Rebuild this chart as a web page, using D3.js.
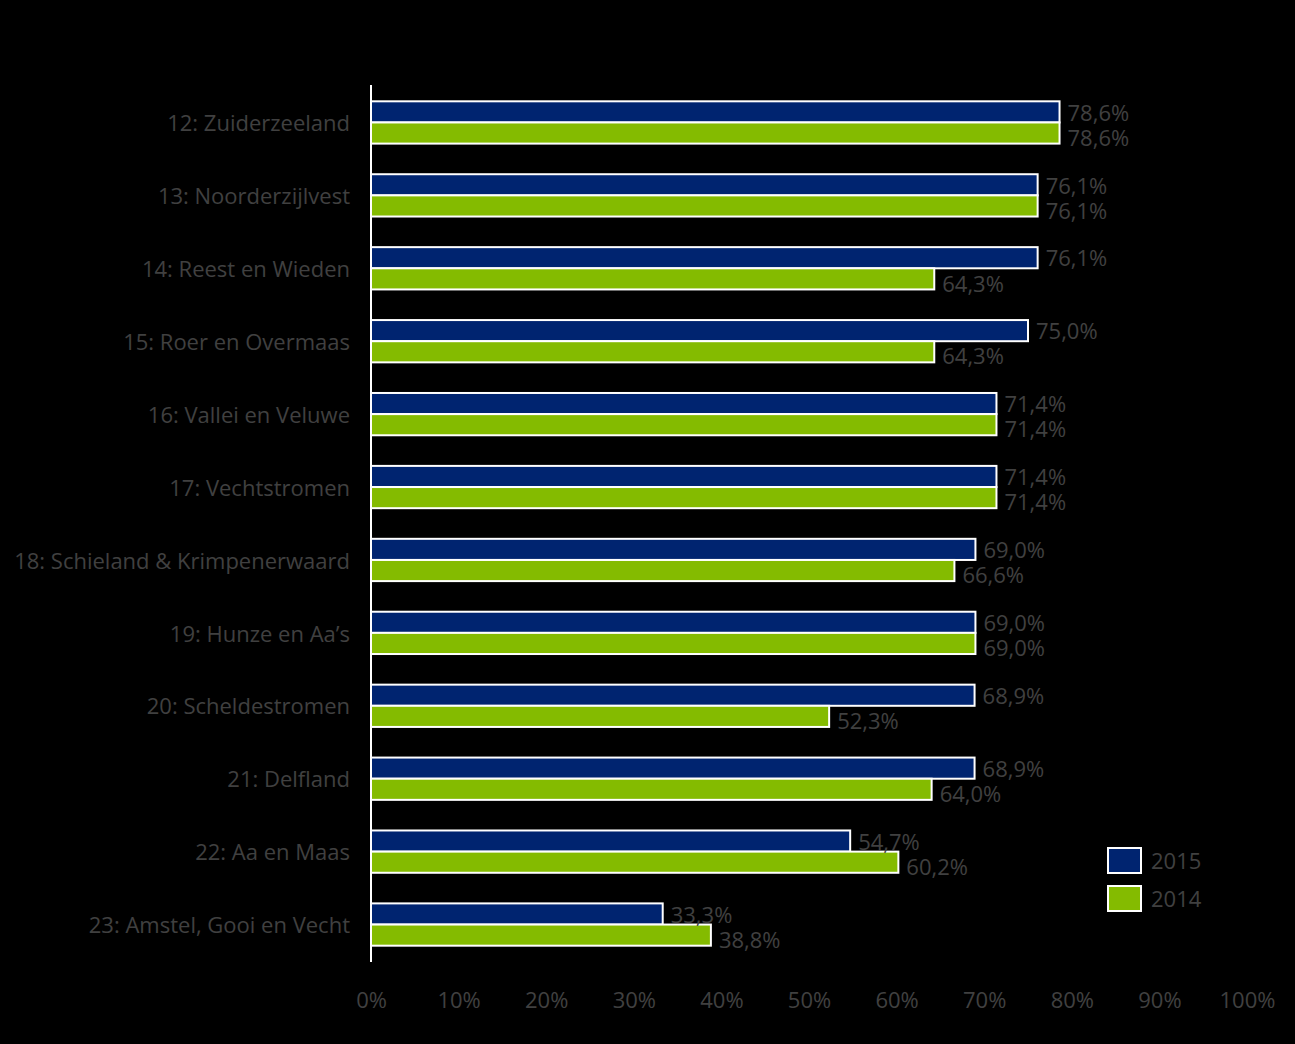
<!DOCTYPE html>
<html><head><meta charset="utf-8">
<script src="https://cdn.jsdelivr.net/npm/d3@7"></script>
<style>html,body{margin:0;padding:0;background:#000;}svg{display:block;}</style>
</head><body>
<svg id="c" width="1295" height="1044"></svg>
<script>
const categories = ["12: Zuiderzeeland","13: Noorderzijlvest","14: Reest en Wieden","15: Roer en Overmaas","16: Vallei en Veluwe","17: Vechtstromen","18: Schieland & Krimpenerwaard","19: Hunze en Aa\u2019s","20: Scheldestromen","21: Delfland","22: Aa en Maas","23: Amstel, Gooi en Vecht"];
const values2015 = [78.6,76.1,76.1,75.0,71.4,71.4,69.0,69.0,68.9,68.9,54.7,33.3];
const values2014 = [78.6,76.1,64.3,64.3,71.4,71.4,66.6,69.0,52.3,64.0,60.2,38.8];
const seriesNames = ["2015","2014"];
const xTicks = [0,10,20,30,40,50,60,70,80,90,100];

const colors = {"2015":"#002470","2014":"#84BB00"};
const textColor = "#404040";
const font = "'Open Sans', sans-serif";
const fs = 22;

const svg = d3.select("#c");
svg.append("rect").attr("width",1295).attr("height",1044).attr("fill","#000");

const x = d3.scaleLinear().domain([0,100]).range([371,1247]);
const y = d3.scaleBand().domain(categories).range([86,961]).paddingInner(0.42).paddingOuter(0.21);
const ySub = d3.scaleBand().domain(seriesNames).range([0,y.bandwidth()]);

const data = categories.map((c,i)=>({c, vals:[{s:"2015",v:values2015[i]},{s:"2014",v:values2014[i]}]}));

const g = svg.append("g");
const groups = g.selectAll("g.grp").data(data).enter().append("g").attr("transform",d=>`translate(0,${y(d.c)})`);
groups.selectAll("rect").data(d=>d.vals).enter().append("rect")
  .attr("x",x(0)).attr("y",d=>ySub(d.s)).attr("width",d=>x(d.v)-x(0)).attr("height",ySub.bandwidth())
  .attr("fill",d=>colors[d.s]).attr("stroke","#fff").attr("stroke-width",2);
groups.selectAll("text.val").data(d=>d.vals).enter().append("text").attr("class","val")
  .attr("x",d=>x(d.v)+8).attr("y",d=>ySub(d.s)+ySub.bandwidth()/2 + (d.s==="2014"?5:1))
  .attr("dy","0.35em").attr("fill",textColor).attr("font-family",font).attr("font-size",fs)
  .text(d=>d.v.toFixed(1).replace(".",",")+"%");

// category labels
g.selectAll("text.cat").data(categories).enter().append("text").attr("class","cat")
  .attr("x",350).attr("y",d=>y(d)+y.bandwidth()/2+1).attr("dy","0.35em").attr("text-anchor","end")
  .attr("fill",textColor).attr("font-family",font).attr("font-size",fs).text(d=>d);

// y axis line
svg.append("line").attr("x1",x(0)).attr("x2",x(0)).attr("y1",85).attr("y2",962).attr("stroke","#fff").attr("stroke-width",2);

// x axis labels
const xa = svg.append("g").attr("transform","translate(0,1000)")
  .call(d3.axisBottom(x).tickValues(xTicks).tickSize(0).tickFormat(d=>d+"%"));
xa.select(".domain").remove();
xa.selectAll("text").attr("fill",textColor).attr("font-family",font).attr("font-size",fs).attr("dy","0.35em").attr("y",0);

// legend
const leg = svg.append("g");
seriesNames.forEach((s,i)=>{
  leg.append("rect").attr("x",1108).attr("y",848+i*38).attr("width",33).attr("height",25)
    .attr("fill",colors[s]).attr("stroke","#fff").attr("stroke-width",2);
  leg.append("text").attr("x",1151).attr("y",861+i*38).attr("dy","0.35em").attr("fill",textColor)
    .attr("font-family",font).attr("font-size",fs).text(s);
});
</script>
</body></html>
